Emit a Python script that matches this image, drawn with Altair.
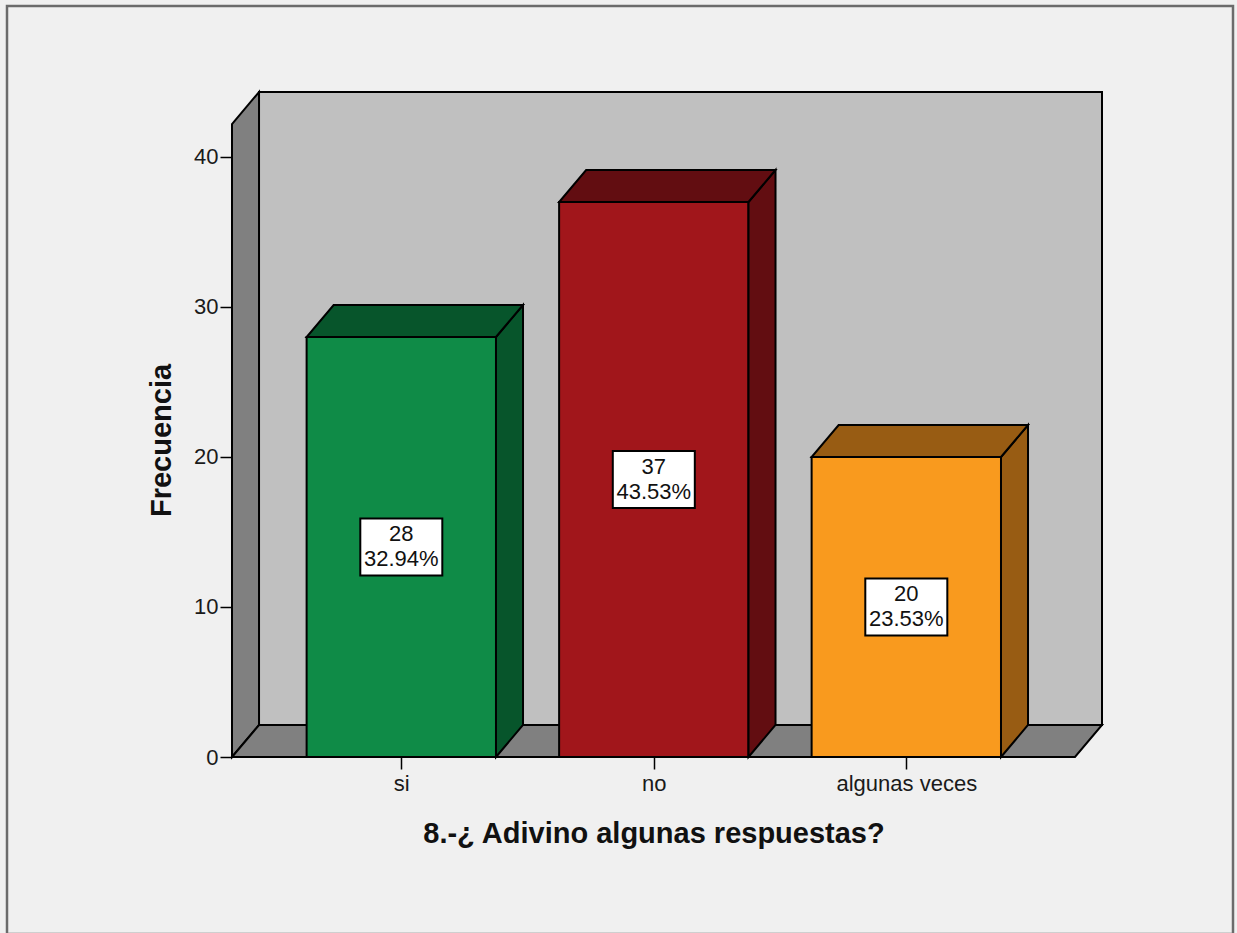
import altair as alt
import pandas as pd

# Survey answers and their frequencies
categories = ["si", "no", "algunas veces"]
counts = [28, 37, 20]
front_colors = ["#0f8b47", "#a1161b", "#f99a1e"]
shade_colors = ["#07552b", "#620d11", "#985c13"]

y_ticks = [0, 10, 20, 30, 40]
x_title = "8.-¿ Adivino algunas respuestas?"
y_title = "Frecuencia"

# 3-D box geometry: x in category slots, y in frequency units
BAR_HALF = 0.375
DX = 0.107
DY = 2.133
WALL_TOP = 42.2
X_LEFT = -0.6705
X_RIGHT = 2.668
BOX_HALF_W = 0.1624
BOX_HALF_H = 1.9

LABEL_FONT = "Liberation Sans"
EDGE = 2
total = sum(counts)

bars = pd.DataFrame({
    "idx": list(range(len(categories))),
    "cat": categories,
    "count": counts,
    "color": front_colors,
})
bars["x0"] = bars["idx"] - BAR_HALF
bars["x1"] = bars["idx"] + BAR_HALF
bars["mid"] = bars["count"] / 2
bars["bx0"] = bars["idx"] - BOX_HALF_W
bars["bx1"] = bars["idx"] + BOX_HALF_W
bars["by0"] = bars["mid"] - BOX_HALF_H
bars["by1"] = bars["mid"] + BOX_HALF_H
bars["label"] = [f"{c}\n{c / total * 100:.2f}%" for c in counts]

# Side and top faces of each bar as polygons (area x / y / y2 rows)
face_rows = []
for i, (c, shade) in enumerate(zip(counts, shade_colors)):
    x0, x1 = i - BAR_HALF, i + BAR_HALF
    side = f"side{i}"
    face_rows += [
        dict(face=side, x=x1, y=0, y2=c, color=shade),
        dict(face=side, x=x1 + DX, y=DY, y2=c + DY, color=shade),
    ]
    top = f"top{i}"
    face_rows += [
        dict(face=top, x=x0, y=c, y2=c, color=shade),
        dict(face=top, x=x0 + DX, y=c, y2=c + DY, color=shade),
        dict(face=top, x=x1, y=c, y2=c + DY, color=shade),
        dict(face=top, x=x1 + DX, y=c + DY, y2=c + DY, color=shade),
    ]
faces = pd.DataFrame(face_rows)

# Left wall and floor of the box
wall_rows = [
    dict(face="left", x=X_LEFT, y=0, y2=WALL_TOP, color="#808080"),
    dict(face="left", x=X_LEFT + DX, y=DY, y2=WALL_TOP + DY, color="#808080"),
    dict(face="floor", x=X_LEFT, y=0, y2=0, color="#808080"),
    dict(face="floor", x=X_LEFT + DX, y=0, y2=DY, color="#808080"),
    dict(face="floor", x=X_RIGHT, y=0, y2=DY, color="#808080"),
    dict(face="floor", x=X_RIGHT + DX, y=DY, y2=DY, color="#808080"),
]
walls = pd.DataFrame(wall_rows)
back = pd.DataFrame([dict(x=X_LEFT + DX, x2=X_RIGHT + DX, y=DY, y2=WALL_TOP + DY)])

xs = alt.Scale(domain=[X_LEFT, X_RIGHT + DX], nice=False, zero=False)
ys = alt.Scale(domain=[0, WALL_TOP + DY], nice=False, zero=False)

label_expr = "[" + ",".join(f"'{c}'" for c in categories) + "][datum.value]"

frame = alt.Chart(back).mark_rect(fill="transparent", stroke="#6b6b6b", strokeWidth=2.5).encode(
    x=alt.value(-225), x2=alt.value(1001), y=alt.value(-86), y2=alt.value(842)
)

back_wall = alt.Chart(back).mark_rect(fill="#c0c0c0", stroke="black", strokeWidth=EDGE).encode(
    x=alt.X("x:Q", scale=xs, axis=None),
    x2="x2:Q",
    y=alt.Y("y:Q", scale=ys, axis=None),
    y2="y2:Q",
)


def polygons(df):
    return alt.Chart(df).mark_area(stroke="black", strokeWidth=EDGE, interpolate="linear").encode(
        x=alt.X("x:Q", scale=xs, axis=None),
        y=alt.Y("y:Q", scale=ys, axis=None, stack=None),
        y2="y2:Q",
        fill=alt.Fill("color:N", scale=None),
        detail="face:N",
    )


fronts = alt.Chart(bars).mark_rect(stroke="black", strokeWidth=EDGE).encode(
    x=alt.X(
        "x0:Q", scale=xs,
        axis=alt.Axis(
            values=list(range(len(categories))), labelExpr=label_expr,
            domain=False, grid=False, tickSize=12, tickColor="black", tickWidth=1.5,
            labelFont=LABEL_FONT, labelFontSize=22, labelColor="#1a1a1a", labelPadding=4,
            title=x_title, titleFont=LABEL_FONT, titleFontSize=29, titleFontWeight="bold",
            titleColor="#111111", titleX=421.5, titleY=85, titleBaseline="alphabetic",
            titleAlign="center", zindex=1,
        ),
    ),
    x2="x1:Q",
    y=alt.Y(
        "count:Q", scale=ys,
        axis=alt.Axis(
            values=y_ticks, domain=False, grid=False, tickSize=12, tickColor="black",
            tickWidth=1.5, labelFont=LABEL_FONT, labelFontSize=22, labelColor="#1a1a1a",
            labelPadding=2,
            title=y_title, titleFont=LABEL_FONT, titleFontSize=29, titleFontWeight="bold",
            titleColor="#111111", titleAngle=-90, titleX=-71, titleY=348,
            titleAlign="center", titleBaseline="middle", zindex=1,
        ),
    ),
    y2=alt.datum(0),
    fill=alt.Fill("color:N", scale=None),
)

boxes = alt.Chart(bars).mark_rect(fill="white", stroke="black", strokeWidth=EDGE).encode(
    x=alt.X("bx0:Q", scale=xs, axis=None),
    x2="bx1:Q",
    y=alt.Y("by0:Q", scale=ys, axis=None),
    y2="by1:Q",
)

labels = alt.Chart(bars).mark_text(
    font=LABEL_FONT, fontSize=22, lineBreak="\n", lineHeight=25,
    align="center", baseline="middle", dy=-12.5, color="#111111",
).encode(
    x=alt.X("idx:Q", scale=xs, axis=None),
    y=alt.Y("mid:Q", scale=ys, axis=None),
    text="label:N",
)

chart = alt.layer(
    back_wall, polygons(walls), fronts, polygons(faces), boxes, labels, frame
).resolve_axis(
    x="independent", y="independent"
).properties(
    width=870,
    height=665,
    padding={"left": 232, "top": 92, "right": 135, "bottom": 176},
    autosize=alt.AutoSizeParams(type="none"),
).configure(background="#f0f0f0").configure_view(stroke=None)

chart.save("out.html", embed_options={"renderer": "svg", "actions": False})
